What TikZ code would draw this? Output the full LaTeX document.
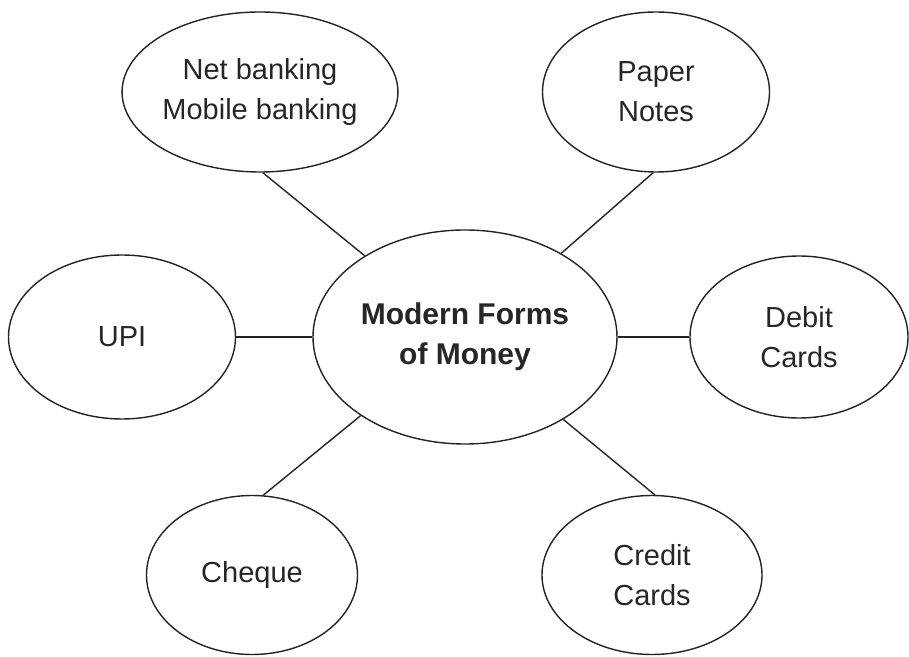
\documentclass[tikz,border=0pt]{standalone}
\usepackage{fontspec}
\setmainfont{Liberation Sans}
\usepackage{tikz}
\usetikzlibrary{shapes}
\definecolor{inkgray}{RGB}{35,35,35}

\begin{document}
\begin{tikzpicture}[x=1pt,y=1pt,
    bubble/.style={draw=inkgray, line width=1.4pt, ellipse, inner sep=0pt, align=center,
                   font=\fontsize{29}{40}\selectfont, text=black!85},
    link/.style={draw=inkgray, line width=1.4pt}]
        \useasboundingbox (0,0) rectangle (909,656);
        \node[bubble, minimum width=304, minimum height=214, font=\fontsize{30}{40}\selectfont\bfseries] (money) at (465,319) {Modern Forms\\of Money};
        \node[bubble, minimum width=226, minimum height=160] (netbank) at (260,564) {Net banking\\Mobile banking};
        \node[bubble, minimum width=227, minimum height=160] (notes) at (656,564) {Paper\\Notes};
        \node[bubble, minimum width=227, minimum height=164] (upi) at (122,319) {UPI};
        \node[bubble, minimum width=218, minimum height=162] (debit) at (799,319) {Debit\\Cards};
        \node[bubble, minimum width=211, minimum height=159] (cheque) at (252,81) {Cheque};
        \node[bubble, minimum width=220, minimum height=159] (credit) at (652,81) {Credit\\Cards};
        \draw[link] (netbank.-88) -- (money.141.5);
        \draw[link] (notes.-92) -- (money.41.8);
        \draw[link] (upi.east) -- (money.west);
        \draw[link] (money.east) -- (debit.west);
        \draw[link] (cheque.82) -- (money.-143.3);
        \draw[link] (credit.88.5) -- (money.-40.2);
    \end{tikzpicture}
\end{document}
